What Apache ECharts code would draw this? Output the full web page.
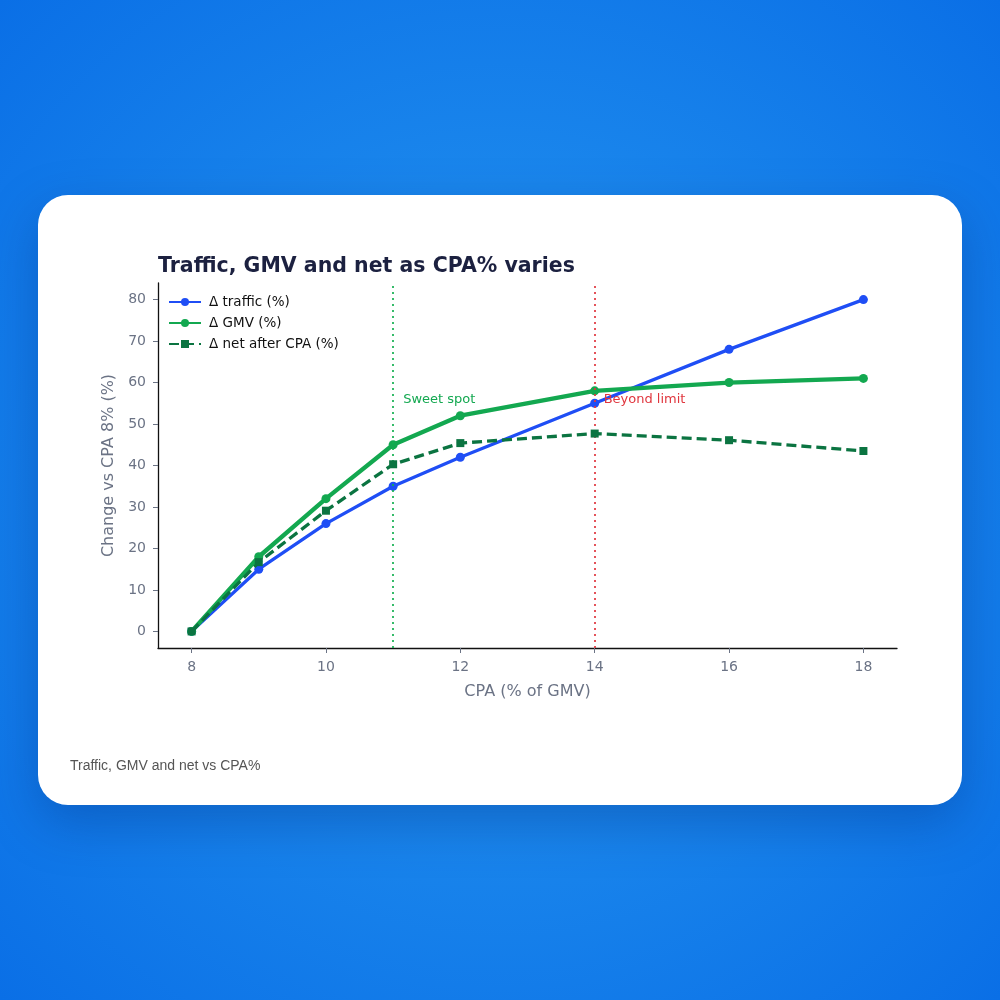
<!DOCTYPE html>
<html lang="en">
<head>
<meta charset="UTF-8">
<title>Traffic, GMV and net as CPA% varies</title>
<script src="https://cdn.jsdelivr.net/npm/echarts@6/dist/echarts.min.js"></script>
<style>
    html, body { margin: 0; padding: 0; }
    body {
        width: 1000px; height: 1000px; overflow: hidden;
        background: radial-gradient(circle at 50% 50%, #2592ee 0%, #1a86ec 45%, #0a6fe6 100%);
    }
    #card {
        position: absolute; left: 38px; top: 195px; width: 924px; height: 610px;
        background: #fff; border-radius: 30px;
        box-shadow: 0 18px 50px rgba(0, 45, 130, 0.35);
    }
    #chart { position: absolute; left: 0; top: 0; width: 924px; height: 610px; }
</style>
</head>
<body>
<div id="card">
    <div id="chart"></div>
</div>
<script>
    // CPA% on x, change vs CPA 8% on y
    var cpa = [8, 9, 10, 11, 12, 14, 16, 18];
    var trafficDelta = [0, 15, 26, 35, 42, 55, 68, 80];
    var gmvDelta = [0, 18, 32, 45, 52, 58, 60, 61];
    var netDelta = [0, 16.7, 29.1, 40.3, 45.4, 47.7, 46.1, 43.5];
    var xTicks = [8, 10, 12, 14, 16, 18];
    var yTicks = [0, 10, 20, 30, 40, 50, 60, 70, 80];
    var sweetSpot = 11, beyondLimit = 14, noteY = 56;

    function pairs(ys) {
        var out = [];
        for (var i = 0; i < cpa.length; i++) out.push([cpa[i], ys[i]]);
        return out;
    }

    var font = 'DejaVu Sans';
    var grey = '#6b7385';

    var myChart = echarts.init(document.getElementById('chart'));
    var option = {
        animation: false,
        textStyle: { fontFamily: font },
        title: {
            text: 'Traffic, GMV and net as CPA% varies',
            left: 120, top: 61, padding: 0,
            textStyle: { fontFamily: font, fontSize: 20.5, fontWeight: 'bold', color: '#1c2140' }
        },
        legend: {
            orient: 'vertical', left: 130, top: 100, padding: 0,
            itemWidth: 32, itemHeight: 10, itemGap: 7,
            textStyle: { fontFamily: font, fontSize: 13.5, color: '#111', padding: [0, 0, 0, 3] },
            data: ['Δ traffic (%)', 'Δ GMV (%)', 'Δ net after CPA (%)']
        },
        grid: { left: 120, right: 65, top: 88, bottom: 157 },
        xAxis: {
            type: 'value', min: 7.5, max: 18.5,
            name: 'CPA (% of GMV)', nameLocation: 'middle', nameGap: 36,
            nameTextStyle: { fontFamily: font, fontSize: 16, color: grey },
            splitLine: { show: false },
            axisLine: { onZero: false, lineStyle: { color: '#111', width: 1.3 } },
            axisTick: { show: true, length: 5, customValues: xTicks, lineStyle: { color: grey } },
            axisLabel: { customValues: xTicks, fontSize: 14, color: grey, margin: 12 }
        },
        yAxis: {
            type: 'value', min: -4, max: 84,
            name: 'Change vs CPA 8% (%)', nameLocation: 'middle', nameGap: 38,
            nameTextStyle: { fontFamily: font, fontSize: 16, color: grey },
            splitLine: { show: false },
            axisLine: { show: true, onZero: false, lineStyle: { color: '#111', width: 1.3 } },
            axisTick: { show: true, length: 5, customValues: yTicks, lineStyle: { color: grey } },
            axisLabel: { customValues: yTicks, fontSize: 14, color: grey, margin: 12 }
        },
        series: [
            {
                name: 'Δ traffic (%)', type: 'line', data: pairs(trafficDelta),
                symbol: 'circle', symbolSize: 9, z: 3,
                itemStyle: { color: '#1f4ef5' },
                lineStyle: { width: 3.3, color: '#1f4ef5' }
            },
            {
                name: 'Δ GMV (%)', type: 'line', data: pairs(gmvDelta),
                symbol: 'circle', symbolSize: 9, z: 4,
                itemStyle: { color: '#13a850' },
                lineStyle: { width: 4.3, color: '#13a850' },
                markLine: {
                    silent: true, symbol: 'none',
                    label: { show: false },
                    data: [
                        { xAxis: sweetSpot, lineStyle: { color: '#13b050', type: [2, 4], width: 1.7 } },
                        { xAxis: beyondLimit, lineStyle: { color: '#e0363e', type: [2, 4], width: 1.7 } }
                    ]
                },
                markPoint: {
                    silent: true, symbol: 'circle', symbolSize: 0,
                    data: [
                        { coord: [sweetSpot, noteY], label: { show: true, position: 'right', distance: 10,
                            formatter: 'Sweet spot', color: '#13a850', fontSize: 13, fontFamily: font } },
                        { coord: [beyondLimit, noteY], label: { show: true, position: 'right', distance: 9,
                            formatter: 'Beyond limit', color: '#e0363e', fontSize: 13, fontFamily: font } }
                    ]
                }
            },
            {
                name: 'Δ net after CPA (%)', type: 'line', data: pairs(netDelta),
                symbol: 'rect', symbolSize: 8, z: 5,
                itemStyle: { color: '#0b7441' },
                lineStyle: { width: 3.3, color: '#0b7441', type: [10, 5] }
            }
        ],
        graphic: [
            {
                type: 'text', left: 32, top: 564,
                style: { text: 'Traffic, GMV and net vs CPA%', fontFamily: 'Liberation Sans', fontSize: 14, fill: '#555' }
            }
        ]
    };
    myChart.setOption(option);
</script>
</body>
</html>
